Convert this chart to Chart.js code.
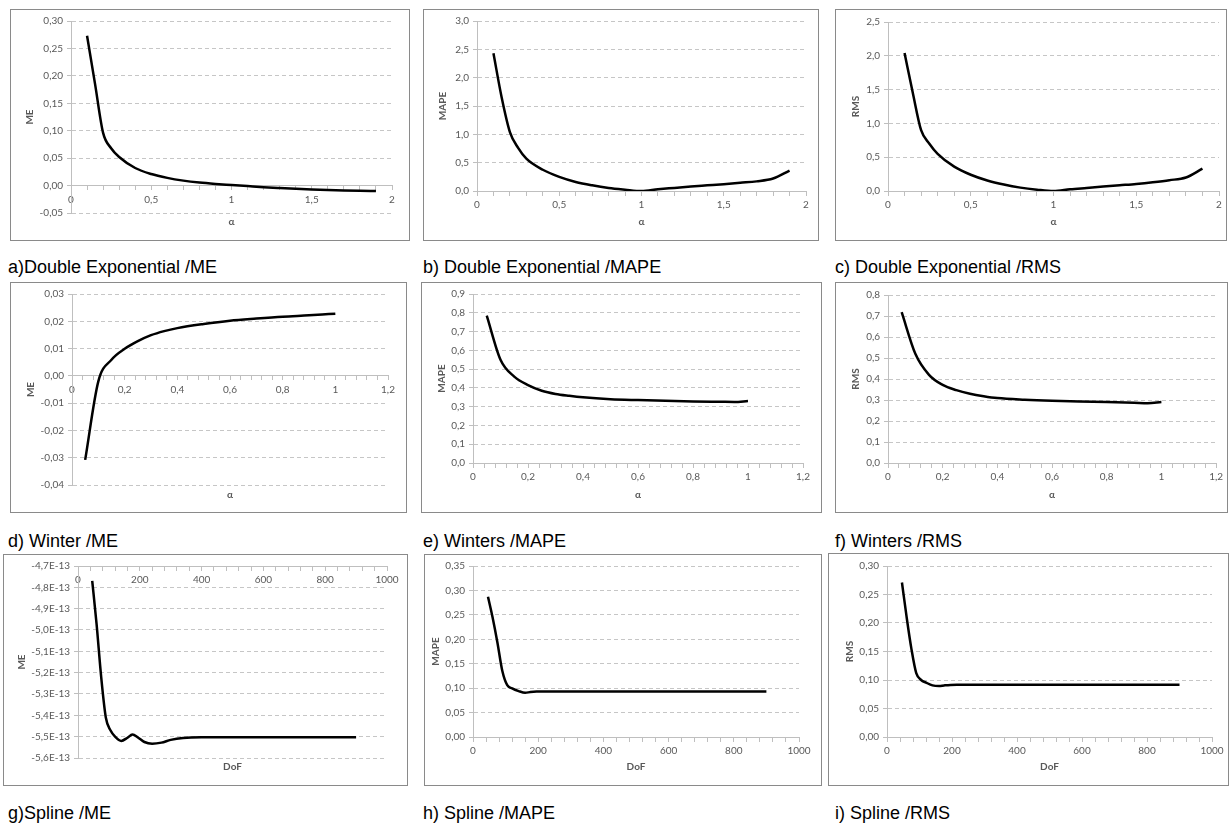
<!DOCTYPE html>
<html>
<head>
<meta charset="utf-8">
<script src="https://cdn.jsdelivr.net/npm/chart.js@4"></script>
<style>
  html, body { margin: 0; padding: 0; background: #fff; }
  body { width: 1232px; height: 827px; position: relative; overflow: hidden; font-family: "Liberation Sans", Arial, sans-serif; }
  .box { position: absolute; border: 1px solid #8a8a8a; box-sizing: border-box; background: #fff; }
  .box canvas { position: absolute; left: 0; top: 0; }
  .cap { position: absolute; font-size: 18px; line-height: 22px; color: #000; white-space: nowrap; }
</style>
</head>
<body>
<div class="cap" style="left:8px;top:256px">a)Double Exponential /ME</div>
<div class="cap" style="left:423px;top:256px">b) Double Exponential /MAPE</div>
<div class="cap" style="left:835px;top:256px">c) Double Exponential /RMS</div>
<div class="cap" style="left:8px;top:530px">d) Winter /ME</div>
<div class="cap" style="left:423px;top:530px">e) Winters /MAPE</div>
<div class="cap" style="left:835px;top:530px">f) Winters /RMS</div>
<div class="cap" style="left:8px;top:802px">g)Spline /ME</div>
<div class="cap" style="left:423px;top:802px">h) Spline /MAPE</div>
<div class="cap" style="left:835px;top:802px">i) Spline /RMS</div>
<script>
// ---------- Double Exponential (alpha) ----------
const alphaDE = [0.1, 0.15, 0.2, 0.25, 0.3, 0.4, 0.5, 0.6, 0.7, 0.8, 0.9, 1.0, 1.1, 1.2, 1.3, 1.4, 1.5, 1.6, 1.7, 1.8, 1.9];
const meDE    = [0.273, 0.185, 0.096, 0.068, 0.052, 0.032, 0.021, 0.014, 0.009, 0.0055, 0.003, 0.001, -0.001, -0.003, -0.0045, -0.0058, -0.007, -0.008, -0.0088, -0.0095, -0.010];
const mapeDE  = [2.43, 1.65, 1.04, 0.76, 0.57, 0.375, 0.25, 0.16, 0.10, 0.054, 0.024, 0.0, 0.03, 0.055, 0.08, 0.10, 0.12, 0.145, 0.17, 0.22, 0.36];
const rmsDE   = [2.04, 1.45, 0.90, 0.70, 0.55, 0.36, 0.24, 0.155, 0.095, 0.05, 0.02, 0.0, 0.025, 0.045, 0.065, 0.085, 0.105, 0.13, 0.16, 0.20, 0.33];

// ---------- Winters (alpha) ----------
const alphaW = [0.05, 0.1, 0.15, 0.2, 0.25, 0.3, 0.35, 0.4, 0.5, 0.6, 0.7, 0.8, 0.9, 0.95, 1.0];
const meW    = [-0.0308, -0.002, 0.0059, 0.0099, 0.0127, 0.0149, 0.0164, 0.0175, 0.019, 0.0202, 0.021, 0.0217, 0.0222, 0.0225, 0.0228];
const mapeW  = [0.785, 0.55, 0.46, 0.415, 0.385, 0.368, 0.358, 0.35, 0.34, 0.335, 0.331, 0.328, 0.326, 0.325, 0.33];
const rmsW   = [0.718, 0.52, 0.42, 0.372, 0.347, 0.33, 0.318, 0.309, 0.301, 0.296, 0.293, 0.29, 0.287, 0.285, 0.29];

// ---------- Spline (DoF) ----------
const dofS  = [46, 60, 75, 90, 105, 120, 140, 160, 176, 195, 215, 240, 270, 300, 340, 400, 500, 600, 700, 800, 900];
const meS   = [-4.77e-13, -4.97e-13, -5.22e-13, -5.41e-13, -5.47e-13, -5.50e-13, -5.52e-13, -5.505e-13, -5.49e-13, -5.505e-13, -5.525e-13, -5.533e-13, -5.528e-13, -5.515e-13, -5.506e-13, -5.503e-13, -5.503e-13, -5.503e-13, -5.503e-13, -5.503e-13, -5.503e-13];
const mapeS = [0.287, 0.245, 0.193, 0.135, 0.106, 0.0995, 0.094, 0.0905, 0.092, 0.093, 0.0932, 0.0932, 0.0932, 0.0932, 0.0932, 0.0932, 0.0932, 0.0932, 0.0932, 0.0932, 0.0932];
const rmsS  = [0.271, 0.212, 0.155, 0.112, 0.100, 0.0955, 0.0905, 0.0893, 0.0905, 0.0914, 0.0915, 0.0915, 0.0915, 0.0915, 0.0915, 0.0915, 0.0915, 0.0915, 0.0915, 0.0915, 0.0915];

// ---------- Tick labels ----------
const yTicksA = [-0.05, 0, 0.05, 0.10, 0.15, 0.20, 0.25, 0.30];
const yTicksB = [0, 0.5, 1.0, 1.5, 2.0, 2.5, 3.0];
const yTicksC = [0, 0.5, 1.0, 1.5, 2.0, 2.5];
const yTicksD = [-0.04, -0.03, -0.02, -0.01, 0, 0.01, 0.02, 0.03];
const yTicksE = [0, 0.1, 0.2, 0.3, 0.4, 0.5, 0.6, 0.7, 0.8, 0.9];
const yTicksF = [0, 0.1, 0.2, 0.3, 0.4, 0.5, 0.6, 0.7, 0.8];
const yTicksG = [-5.6e-13, -5.5e-13, -5.4e-13, -5.3e-13, -5.2e-13, -5.1e-13, -5.0e-13, -4.9e-13, -4.8e-13, -4.7e-13];
const yTicksH = [0, 0.05, 0.10, 0.15, 0.20, 0.25, 0.30, 0.35];
const yTicksI = [0, 0.05, 0.10, 0.15, 0.20, 0.25, 0.30];
const xTicksDE = [0, 0.5, 1, 1.5, 2];
const xTicksW  = [0, 0.2, 0.4, 0.6, 0.8, 1, 1.2];
const xTicksS  = [0, 200, 400, 600, 800, 1000];

const fmtDec = d => v => v.toFixed(d).replace('.', ',');
const fmtGen = v => String(+v.toFixed(6)).replace('.', ',');
const fmtE13 = v => (Math.round(v * 1e14) / 10).toFixed(1).replace('.', ',') + 'E-13';

const panels = [
  {box:[10,9,410,241],   area:[71,21,392,213],   yTitleX:30,  xTitleY:222, xs:alphaDE, ys:meDE,   xt:xTicksDE, yt:yTicksA, yf:fmtDec(2), axisAt:0, yTitle:'ME',   xTitle:'α'},
  {box:[423,9,819,241],  area:[477,21,806,191],  yTitleX:443, xTitleY:222, xs:alphaDE, ys:mapeDE, xt:xTicksDE, yt:yTicksB, yf:fmtDec(1), axisAt:0, yTitle:'MAPE', xTitle:'α'},
  {box:[835,9,1227,241], area:[888,22,1219,191], yTitleX:856, xTitleY:222, xs:alphaDE, ys:rmsDE,  xt:xTicksDE, yt:yTicksC, yf:fmtDec(1), axisAt:0, yTitle:'RMS',  xTitle:'α'},
  {box:[10,282,407,513], area:[72,294,388,485],  yTitleX:31,  xTitleY:495, xs:alphaW,  ys:meW,    xt:xTicksW,  yt:yTicksD, yf:fmtDec(2), axisAt:0, yTitle:'ME',   xTitle:'α'},
  {box:[421,282,822,513],area:[473,294,803,463], yTitleX:442, xTitleY:495, xs:alphaW,  ys:mapeW,  xt:xTicksW,  yt:yTicksE, yf:fmtDec(1), axisAt:0, yTitle:'MAPE', xTitle:'α'},
  {box:[835,282,1228,513],area:[888,295,1217,463],yTitleX:856, xTitleY:495, xs:alphaW,  ys:rmsW,   xt:xTicksW,  yt:yTicksF, yf:fmtDec(1), axisAt:0, yTitle:'RMS',  xTitle:'α'},
  {box:[3,554,408,786],  area:[78,566,387,758],  yTitleX:22,  xTitleY:767, xs:dofS,    ys:meS,    xt:xTicksS,  yt:yTicksG, yf:fmtE13,   axisAt:-4.7e-13, yTitle:'ME', xTitle:'DoF'},
  {box:[424,554,822,786],area:[473,566,799,737], yTitleX:436, xTitleY:767, xs:dofS,    ys:mapeS,  xt:xTicksS,  yt:yTicksH, yf:fmtDec(2), axisAt:0, yTitle:'MAPE', xTitle:'DoF'},
  {box:[828,553,1229,786],area:[887,566,1212,737],yTitleX:850, xTitleY:767, xs:dofS,    ys:rmsS,   xt:xTicksS,  yt:yTicksI, yf:fmtDec(2), axisAt:0, yTitle:'RMS',  xTitle:'DoF'}
];

const TICK_FONT = {family: 'Lato, "Open Sans", sans-serif', size: 10};
const TITLE_FONT = {family: 'Lato, "Open Sans", sans-serif', size: 10, weight: 'bold'};
const LH = 10 * 1.2;
const TXT = '#595959';
const AXIS = '#bfbfbf';
const GRID = '#c6c6c6';

function minorTicks(major, n) {
  const out = [];
  for (let i = 0; i < major.length - 1; i++) {
    const step = (major[i + 1] - major[i]) / n;
    for (let k = 0; k < n; k++) out.push(+(major[i] + k * step).toFixed(8));
  }
  out.push(major[major.length - 1]);
  return out;
}

function makeChart(p) {
  const [L, T, R, B] = p.box;
  const ox = L + 1, oy = T + 1, W = R - L - 2, H = B - T - 2;
  const div = document.createElement('div');
  div.className = 'box';
  div.style.left = L + 'px'; div.style.top = T + 'px';
  div.style.width = (R - L) + 'px'; div.style.height = (B - T) + 'px';
  const cv = document.createElement('canvas');
  cv.width = W; cv.height = H;
  cv.style.width = W + 'px'; cv.style.height = H + 'px';
  div.appendChild(cv);
  document.body.appendChild(div);

  const aL = p.area[0] - ox, aT = p.area[1] - oy, aR = p.area[2] - ox, aB = p.area[3] - oy;
  const xMajor = p.xt;
  const xAll = minorTicks(xMajor, 5);
  const majorSet = xMajor.map(v => +v.toFixed(8));
  const yMin = p.yt[0], yMax = p.yt[p.yt.length - 1];

  new Chart(cv, {
    type: 'line',
    data: {
      datasets: [{
        data: p.xs.map((x, i) => ({x: x, y: p.ys[i]})),
        borderColor: '#000', borderWidth: 2.5, pointRadius: 0,
        cubicInterpolationMode: 'monotone', fill: false,
        xAxisID: 'x', yAxisID: 'y'
      }]
    },
    options: {
      responsive: false, animation: false, events: [],
      layout: {padding: {left: 0, top: aT, right: W - aR, bottom: 0}},
      plugins: {legend: {display: false}, tooltip: {enabled: false}, title: {display: false}},
      scales: {
        x: {
          type: 'linear', position: {y: p.axisAt},
          min: xMajor[0], max: xMajor[xMajor.length - 1],
          afterFit: s => { s.height = 0; },
          afterBuildTicks: s => { s.ticks = xAll.map(v => ({value: v})); },
          ticks: {
            autoSkip: false, maxRotation: 0, padding: 4, font: TICK_FONT, color: TXT,
            callback: v => majorSet.some(m => Math.abs(m - v) < 1e-6) ? fmtGen(v) : ''
          },
          grid: {display: true, drawOnChartArea: false, drawTicks: true, tickLength: 4, color: AXIS, tickColor: AXIS},
          border: {display: true, color: AXIS, width: 1}
        },
        x2: {
          type: 'linear', position: 'bottom', min: 0, max: 1,
          afterFit: s => { s.height = H - aB; },
          ticks: {display: false},
          grid: {display: false},
          border: {display: false},
          title: {display: true, text: p.xTitle, font: TITLE_FONT, color: TXT,
                  padding: {top: 0, bottom: (H - (p.xTitleY - oy)) - LH / 2}}
        },
        y: {
          type: 'linear', position: 'left', min: yMin, max: yMax,
          afterFit: s => { s.width = aL; },
          afterBuildTicks: s => { s.ticks = p.yt.map(v => ({value: v})); },
          ticks: {autoSkip: false, padding: 4, font: TICK_FONT, color: TXT, callback: v => p.yf(v)},
          grid: {color: GRID, drawTicks: true, tickLength: 4, tickColor: AXIS, tickBorderDash: []},
          border: {display: true, color: AXIS, width: 1, dash: [4, 3]},
          title: {display: true, text: p.yTitle, font: TITLE_FONT, color: TXT,
                  padding: {top: (p.yTitleX - ox) - LH / 2, bottom: 0}}
        }
      }
    }
  });
}

panels.forEach(makeChart);
</script>
</body>
</html>
